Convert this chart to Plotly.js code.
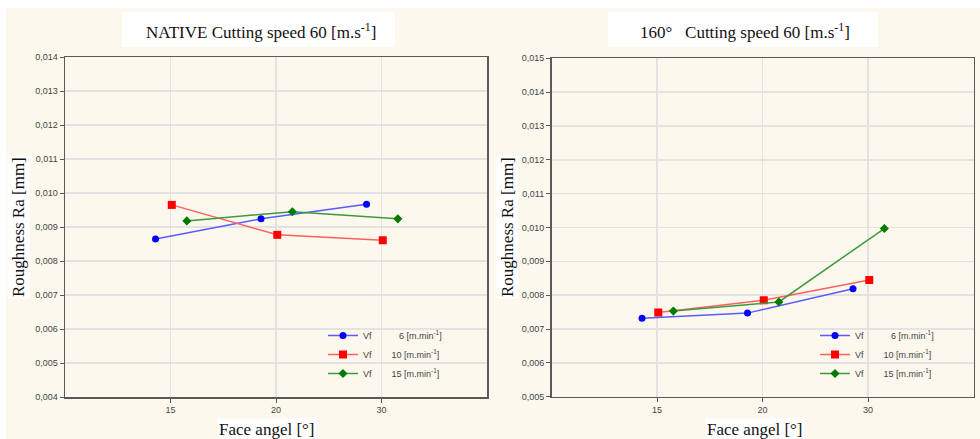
<!DOCTYPE html>
<html>
<head>
<meta charset="utf-8">
<script src="https://cdn.plot.ly/plotly-3.0.1.min.js"></script>
<style>
html,body{margin:0;padding:0;background:#ffffff;}
#chart{width:980px;height:439px;}
</style>
</head>
<body>
<div id="chart"></div>
<script>
// ---- data ----
const faceAngles = [15, 20, 30];           // x categories [°]
const feedRates = [6, 10, 15];             // Vf [m.min-1]
// Left panel: NATIVE
const nativeVf6  = [0.00865, 0.00924, 0.00967];
const nativeVf10 = [0.00965, 0.00877, 0.00861];
const nativeVf15 = [0.00918, 0.00945, 0.00924];
// Right panel: 160°
const deg160Vf6  = [0.00732, 0.00747, 0.00819];
const deg160Vf10 = [0.00749, 0.00785, 0.00845];
const deg160Vf15 = [0.00753, 0.00780, 0.00997];

const leftTitle = 'NATIVE Cutting speed 60 [m.s<sup>-1</sup>]';
const rightTitle = '160°   Cutting speed 60 [m.s<sup>-1</sup>]';
const yTitle = 'Roughness Ra [mm]';
const xTitle = 'Face angel [°]';

// ---- styles ----
const W = 980, H = 439;
const colors = ['#0000ff', '#ff0000', '#007a00'];
const lineColors = ['#5a5aff', '#ff6060', '#3c9a3c'];
const symbols = ['circle', 'square', 'diamond'];
const sizes = [7, 8, 7];
const dodge = [-0.142, 0.012, 0.155];
const serif = 'Liberation Serif, Times New Roman, serif';
const sans = 'Liberation Sans, Arial, sans-serif';

function label(v) {
  const n = v < 10 ? 11 : 8;
  return 'Vf' + '\u00a0'.repeat(n) + v + ' [m.min<sup>-1</sup>]';
}

function makeTraces(series, xa, ya, legendId) {
  return series.map((vals, i) => ({
    type: 'scatter', mode: 'lines+markers',
    x: faceAngles.map((_, k) => k + 1 + dodge[i]),
    y: vals,
    xaxis: xa, yaxis: ya, legend: legendId,
    name: label(feedRates[i]),
    line: {color: lineColors[i], width: 1.5},
    marker: {color: colors[i], symbol: symbols[i], size: sizes[i]},
    hoverinfo: 'x+y'
  }));
}

const traces = [
  ...makeTraces([nativeVf6, nativeVf10, nativeVf15], 'x', 'y', 'legend'),
  ...makeTraces([deg160Vf6, deg160Vf10, deg160Vf15], 'x2', 'y2', 'legend2')
];

function px(x) { return x / W; }
function py(y) { return 1 - y / H; }

const axisCommon = {
  showline: true, mirror: true, linecolor: '#5a5a5a', linewidth: 1.5,
  showgrid: true, gridcolor: '#e3e3e3', gridwidth: 1.5,
  zeroline: false, ticks: 'outside', ticklen: 4, tickcolor: '#5a5a5a',
  tickfont: {family: sans, size: 9, color: '#444'}
};

const xAxisBase = Object.assign({}, axisCommon, {
  range: [0, 4], tickmode: 'array',
  tickvals: faceAngles.map((_, k) => k + 1),
  ticktext: faceAngles.map(String)
});

function ann(text, x, y, extra) {
  return Object.assign({text: text, xref: 'paper', yref: 'paper', x: px(x), y: py(y),
    xanchor: 'center', yanchor: 'middle', showarrow: false,
    font: {family: serif, size: 17, color: '#111'}}, extra || {});
}

const legendCommon = {xanchor: 'left', yanchor: 'top',
  bgcolor: 'rgba(0,0,0,0)', font: {family: sans, size: 9, color: '#444'},
  itemwidth: 30, tracegroupgap: 0};

const layout = {
  width: W, height: H,
  margin: {l: 0, r: 0, t: 0, b: 0},
  paper_bgcolor: '#ffffff', plot_bgcolor: '#ffffff',
  separators: ',.',
  showlegend: true,
  xaxis: Object.assign({}, xAxisBase, {domain: [px(65), px(487)], anchor: 'y'}),
  yaxis: Object.assign({}, axisCommon, {domain: [py(397), py(57)], anchor: 'x',
    range: [0.004, 0.014], dtick: 0.001, tick0: 0.004, tickformat: '.3f'}),
  xaxis2: Object.assign({}, xAxisBase, {domain: [px(551.5), px(973.5)], anchor: 'y2'}),
  yaxis2: Object.assign({}, axisCommon, {domain: [py(396.7), py(58.3)], anchor: 'x2',
    range: [0.005, 0.015], dtick: 0.001, tick0: 0.005, tickformat: '.3f'}),
  legend: Object.assign({}, legendCommon, {x: px(323), y: py(321)}),
  legend2: Object.assign({}, legendCommon, {x: px(815), y: py(321)}),
  shapes: [
    {type: 'rect', xref: 'paper', yref: 'paper', layer: 'below',
      x0: px(6), x1: 1, y0: 0, y1: py(8), fillcolor: '#fdf8ee', line: {width: 0}},
    {type: 'rect', xref: 'paper', yref: 'paper', layer: 'below',
      x0: px(122), x1: px(395), y0: py(47), y1: py(12), fillcolor: '#ffffff', line: {width: 0}},
    {type: 'rect', xref: 'paper', yref: 'paper', layer: 'below',
      x0: px(608), x1: px(878), y0: py(47), y1: py(12), fillcolor: '#ffffff', line: {width: 0}}
  ],
  annotations: [
    ann(leftTitle, 261, 31),
    ann(rightTitle, 745, 31),
    ann(yTitle, 18, 227, {textangle: -90, bgcolor: '#ffffff'}),
    ann(yTitle, 507, 227, {textangle: -90, bgcolor: '#ffffff'}),
    ann(xTitle, 267, 429, {bgcolor: '#ffffff'}),
    ann(xTitle, 755, 429, {bgcolor: '#ffffff'})
  ]
};

Plotly.newPlot('chart', traces, layout, {displayModeBar: false, staticPlot: true});
</script>
</body>
</html>
